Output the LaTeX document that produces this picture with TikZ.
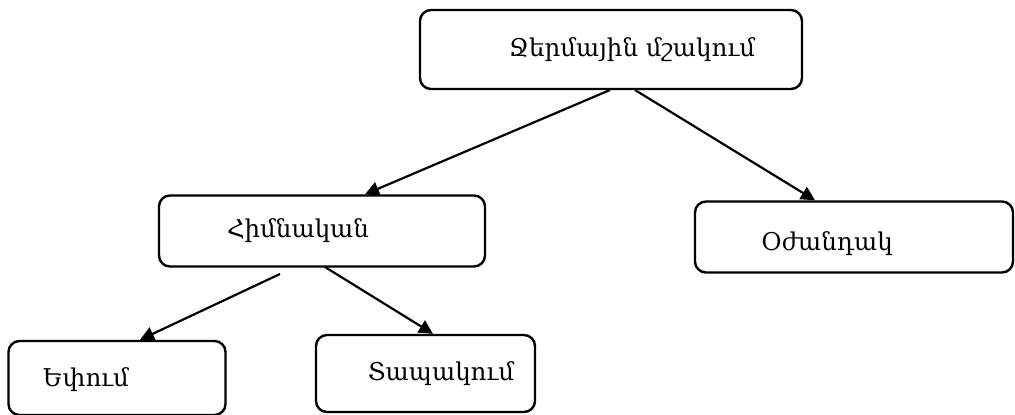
\documentclass[tikz,border=0pt]{standalone}
\usepackage{fontspec}
\setmainfont{DejaVu Serif}
\usetikzlibrary{arrows.meta}
\begin{document}
\begin{tikzpicture}[x=1pt,y=-1pt,
  box/.style={draw,line width=2.4pt,rounded corners=11pt},
  lbl/.style={font=\fontsize{24.5}{28}\selectfont,inner sep=0pt},
  arr/.style={line width=2.2pt,-{Triangle[length=14pt,width=14pt]}}]
\useasboundingbox (0,0) rectangle (1015,415);
\node[box,minimum width=382pt,minimum height=79pt] (top) at (611,49.5) {};
\node[box,minimum width=326pt,minimum height=71pt] (him) at (322,231) {};
\node[box,minimum width=318pt,minimum height=71pt] (oj) at (854,237) {};
\node[box,minimum width=217pt,minimum height=74pt] (eph) at (117,378) {};
\node[box,minimum width=219pt,minimum height=77pt] (tap) at (425.5,373.5) {};
\node[lbl] (ttop) at (632,50) {Ջերմային մշակում};
\node[lbl] (thim) at (298,231) {Հիմնական};
\node[lbl] (toj) at (827,244) {Օժանդակ};
\node[lbl] (teph) at (86,380) {Եփում};
\node[lbl] (ttap) at (441,374) {Տապակում};
\coordinate (a1) at (610,90);
\coordinate (a2) at (635,90);
\coordinate (b1) at (280,274);
\coordinate (b2) at (325,267);
\draw[arr] (a1) -- (him.north west -| 365,0);
\draw[arr] (a2) -- (oj.north west -| 815,0);
\draw[arr] (b1) -- (eph.north west -| 140,0);
\draw[arr] (b2) -- (tap.north west -| 433,0);
\end{tikzpicture}
\end{document}
